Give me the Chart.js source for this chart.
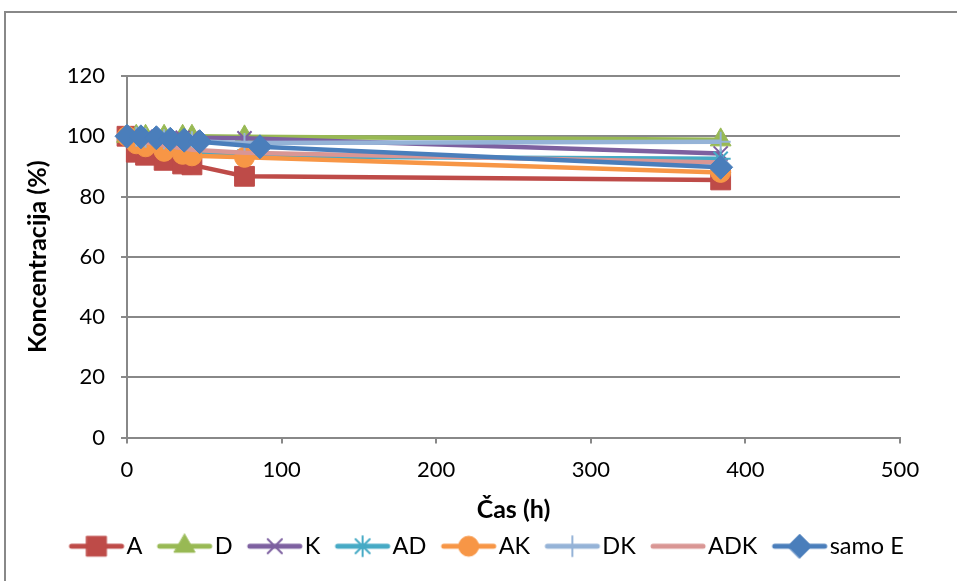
<!DOCTYPE html>
<html>
<head>
<meta charset="utf-8">
<script src="https://cdn.jsdelivr.net/npm/chart.js@4.4.0/dist/chart.umd.min.js"></script>
<style>
  html, body { margin: 0; padding: 0; background: #fff; overflow: hidden; }
  #frame { position: absolute; left: 4px; top: 11px; width: 1100px; height: 700px; border: 2px solid #888; }
  #wrap { position: absolute; left: 0; top: 0; width: 957px; height: 581px; }
</style>
</head>
<body>
<div id="frame"></div>
<div id="wrap"><canvas id="chartConc"></canvas></div>
<script>
// sampling times (h)
const hours = [0, 6, 12, 24, 36, 42, 76, 384];
const hoursE = [0, 9, 19, 28, 37, 47, 86, 384];

// concentration (%) per sample
const seriesNames = ['A', 'D', 'K', 'AD', 'AK', 'DK', 'ADK', 'samo E'];
const valA   = [100, 94.7, 93.7, 92.0, 90.8, 90.5, 86.7, 85.5];
const valD   = [100, 100, 100, 100, 100, 100, 99.8, 98.8];
const valK   = [100, 100, 99.8, 99.6, 99.5, 99.5, 99.3, 94.3];
const valAD  = [100, 99.0, 98.0, 96.5, 95.0, 94.5, 93.3, 92.5];
const valAK  = [100, 97.5, 96.5, 95.0, 94.0, 93.5, 93.0, 88.0];
const valDK  = [100, 99.8, 99.5, 99.0, 98.5, 98.3, 97.8, 98.2];
const valADK = [100, 99.0, 98.0, 97.0, 96.0, 95.5, 94.5, 91.3];
const valE   = [100, 99.8, 99.5, 99.0, 98.7, 98.2, 96.5, 89.7];

const xTicks = [0, 100, 200, 300, 400, 500];
const yTicks = [0, 20, 40, 60, 80, 100, 120];

const colors = ['#BE4B48', '#98B954', '#7D60A0', '#46AAC5', '#F79646', '#95B3D7', '#D99694', '#4A7EBB'];
const markers = [
  { style: 'rect', r: 14, bw: 1 },
  { style: 'triangle', r: 12, bw: 1 },
  { style: 'crossRot', r: 10, bw: 2 },
  { style: 'star', r: 10, bw: 2 },
  { style: 'circle', r: 10, bw: 1 },
  { style: 'cross', r: 10, bw: 2 },
  { style: 'circle', r: 0, bw: 0 },
  { style: 'rectRot', r: 12, bw: 1 }
];

const allVals = [valA, valD, valK, valAD, valAK, valDK, valADK, valE];
const allTimes = [hours, hours, hours, hours, hours, hours, hours, hoursE];

const font = 'Lato, "Open Sans", sans-serif';

// legend icons: short line with the marker on it
function legendIcon(color, m) {
  const c = document.createElement('canvas');
  c.width = 58; c.height = 26;
  const g = c.getContext('2d');
  g.strokeStyle = color; g.fillStyle = color;
  g.lineWidth = 5; g.lineCap = 'round';
  g.beginPath(); g.moveTo(4, 13); g.lineTo(54, 13); g.stroke();
  if (m.r > 0) {
    g.lineWidth = m.bw;
    Chart.helpers.drawPoint(g, { pointStyle: m.style, radius: m.r, borderWidth: m.bw, rotation: 0 }, 29, 13);
  }
  return c;
}
const icons = colors.map((c, i) => legendIcon(c, markers[i]));

const datasets = seriesNames.map((name, i) => ({
  label: name,
  data: allTimes[i].map((t, j) => ({ x: t, y: allVals[i][j] })),
  showLine: true,
  borderColor: colors[i],
  backgroundColor: colors[i],
  borderWidth: 4.5,
  pointStyle: markers[i].style,
  pointRadius: markers[i].r,
  pointBorderWidth: markers[i].bw,
  pointBackgroundColor: colors[i],
  pointBorderColor: colors[i],
  order: seriesNames.length - i,
  clip: false
}));

const ctx = document.getElementById('chartConc').getContext('2d');
new Chart(ctx, {
  type: 'scatter',
  data: { datasets: datasets },
  options: {
    responsive: true,
    maintainAspectRatio: false,
    animation: false,
    layout: { padding: { left: 25, right: 0, top: 76, bottom: 13 } },
    plugins: {
      tooltip: { enabled: false },
      legend: {
        position: 'bottom',
        labels: {
          usePointStyle: true,
          pointStyleWidth: 36.5,
          boxHeight: 20,
          padding: 24,
          color: '#000',
          font: { family: font, size: 23.5 },
          generateLabels(chart) {
            const items = Chart.defaults.plugins.legend.labels.generateLabels(chart);
            items.sort((a, b) => a.datasetIndex - b.datasetIndex);
            items.forEach(it => { it.pointStyle = icons[it.datasetIndex]; });
            return items;
          }
        }
      }
    },
    scales: {
      x: {
        type: 'linear',
        min: 0, max: 500,
        afterBuildTicks: s => { s.ticks = xTicks.map(v => ({ value: v })); },
        afterFit: s => { s.height = 73; },
        grid: { drawOnChartArea: false, drawTicks: true, tickLength: 6, color: '#888', lineWidth: 2 },
        border: { color: '#888', width: 2 },
        ticks: { color: '#000', padding: 13, font: { family: font, size: 22 }, maxRotation: 0 },
        title: { display: true, text: 'Čas (h)', color: '#000', padding: { top: 0, bottom: -14 }, font: { family: font, size: 25, weight: 'bold' } }
      },
      y: {
        type: 'linear',
        min: 0, max: 120,
        afterBuildTicks: s => { s.ticks = yTicks.map(v => ({ value: v })); },
        afterFit: s => { s.width = 102; },
        grid: { color: '#888', lineWidth: 2, tickLength: 6 },
        border: { color: '#888', width: 2 },
        ticks: { color: '#000', padding: 16, font: { family: font, size: 22 } },
        title: { display: true, text: 'Koncentracija (%)', color: '#000', padding: { top: -2, bottom: 0 }, font: { family: font, size: 25, weight: 'bold' } }
      },
      // empty right-hand spacer so the plot ends where the reference does
      yRight: {
        type: 'linear',
        position: 'right',
        display: true,
        grid: { display: false },
        border: { display: false },
        ticks: { display: false },
        afterFit: s => { s.width = 57; }
      }
    }
  }
});
</script>
</body>
</html>
